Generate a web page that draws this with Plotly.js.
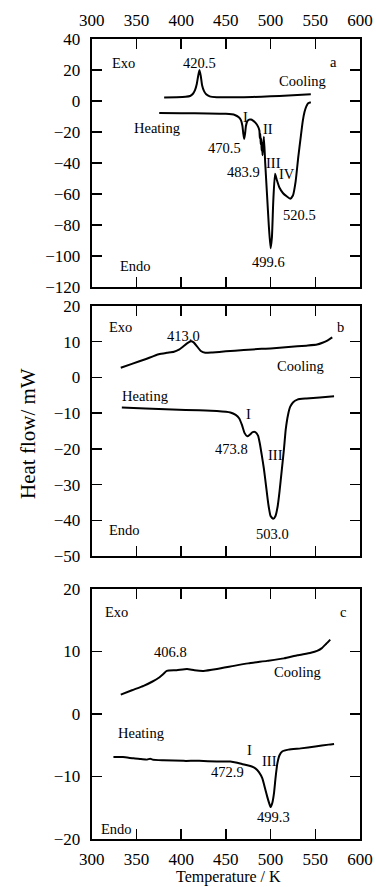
<!DOCTYPE html>
<html>
<head>
<meta charset="utf-8">
<script src="https://cdn.plot.ly/plotly-3.0.1.min.js"></script>
<style>html,body{margin:0;padding:0;background:#fff;}#chart{width:376px;height:887px;}</style>
</head>
<body>
<div id="chart"></div>
<script>
// Panel a
const aCoolT = [381, 395, 405, 410, 413, 415.5, 417.5, 419, 420.5, 422, 423.5, 425.5, 428, 432, 440, 460, 480, 500, 520, 545];
const aCoolV = [2.2, 2.4, 2.7, 3.2, 4.5, 7, 11, 16, 20, 16, 10, 6.5, 4.3, 3.0, 2.5, 2.4, 2.6, 3.0, 3.5, 4.3];
const aHeatT = [375.5, 400, 430, 450, 460, 464.5, 467, 468.5, 469.5, 470.5, 471.5, 472.5, 474, 476, 478, 480, 483, 486, 487.5, 488, 488.5, 489, 489.5, 490, 490.5, 491, 492.5, 494, 496, 498, 500, 501.5, 503, 505, 507, 510, 514, 518, 522, 525, 528, 531, 534, 536, 538, 540, 542, 545];
const aHeatV = [-7.8, -7.9, -8.0, -8.3, -9, -10.5, -12.5, -16, -21, -24.5, -21, -16, -13, -12, -12, -12.5, -14, -16.5, -19, -24, -21, -28, -24, -32, -27, -35, -23, -40, -60, -80, -95, -88, -65, -47, -51, -56, -59.5, -61.5, -63, -61, -52, -36, -22, -13, -7, -3.5, -1.5, -0.8];
// Panel b
const bCoolT = [332.5, 345, 360, 375, 384, 392, 397, 402, 407, 411, 414, 418, 422, 427, 435, 450, 470, 490, 500, 520, 540, 552, 558, 564, 569];
const bCoolV = [2.7, 3.8, 5.1, 6.5, 6.9, 7.2, 7.7, 8.6, 9.6, 10.1, 9.8, 8.6, 7.4, 6.9, 7.0, 7.3, 7.7, 8.0, 8.1, 8.5, 8.9, 9.2, 9.7, 10.4, 11.2];
const bHeatT = [333.7, 360, 390, 420, 440, 455, 461, 465, 468, 471, 474, 477, 480, 483, 486, 488, 490, 492.5, 495, 497.5, 500, 503, 505.5, 508, 510, 512.5, 515, 517, 519.5, 522, 525, 530, 540, 555, 571];
const bHeatV = [-8.4, -8.7, -9.0, -9.2, -9.4, -9.8, -10.5, -11.5, -13.3, -15.6, -16.5, -16.0, -15.3, -15.3, -16.3, -18.5, -21.5, -25.5, -30.5, -35.5, -38.8, -39.6, -38.8, -36, -32, -26, -20, -14.5, -10.5, -8.2, -7, -6.2, -5.9, -5.6, -5.3];
// Panel c
const cCoolT = [332.5, 345, 358, 368, 375, 380, 384, 395, 406.6, 415, 425, 440, 459, 475, 496, 515, 530, 545, 552, 557, 562, 566.7];
const cCoolV = [3.1, 3.8, 4.5, 5.2, 5.8, 6.4, 6.9, 7.0, 7.2, 7.0, 6.9, 7.2, 7.7, 8.1, 8.5, 8.9, 9.4, 9.8, 10.1, 10.5, 11.2, 11.9];
const cHeatT = [324.3, 335, 346.7, 355, 362, 365.4, 368, 380, 402.8, 420, 440, 455, 462.7, 468, 474, 479, 483, 487, 490.8, 494, 496.4, 498.5, 500.1, 502, 503.8, 505.5, 507.6, 510, 513, 520, 533.8, 550, 565, 571];
const cHeatV = [-6.9, -6.9, -7.1, -7.2, -7.3, -7.15, -7.3, -7.4, -7.5, -7.5, -7.6, -7.6, -7.8, -8.0, -8.2, -8.4, -8.7, -9.3, -10.3, -12, -13.3, -14.3, -14.9, -14.2, -12.7, -10.3, -7.9, -6.6, -6.0, -5.7, -5.5, -5.2, -4.9, -4.8];

const xTicks = [300, 350, 400, 450, 500, 550, 600];

// labels: [text, x, y, panel]
const labels = [
  ['Exo', 335.5, 24.7, ''], ['420.5', 420.8, 24.3, ''], ['a', 570, 25.4, ''], ['Cooling', 535.7, 12.9, ''],
  ['Heating', 373, -17.6, ''], ['I', 472, -10.1, ''], ['470.5', 448.8, -30.1, ''], ['II', 497, -18.3, ''],
  ['483.9', 470.2, -45.6, ''], ['III', 503, -40.2, ''], ['IV', 518, -47.1, ''], ['520.5', 531.9, -73.5, ''],
  ['499.6', 497.5, -103.7, ''], ['Endo', 348.6, -106.5, ''],
  ['Exo', 331.8, 14.2, '2'], ['413.0', 402.8, 11.5, '2'], ['b', 577.9, 14.2, '2'], ['Cooling', 533.8, 3.1, '2'],
  ['Heating', 359.8, -5.1, '2'], ['I', 475.8, -10.2, '2'], ['473.8', 456.3, -20.1, '2'], ['III', 505.7, -21.7, '2'],
  ['503.0', 502, -43.9, '2'], ['Endo', 336.3, -42.6, '2'],
  ['Exo', 328, 16.3, '3'], ['406.8', 387.9, 10, '3'], ['c', 580.6, 16.3, '3'], ['Cooling', 530, 6.7, '3'],
  ['Heating', 355, -3.1, '3'], ['I', 476.9, -5.8, '3'], ['III', 499.3, -7.5, '3'], ['472.9', 452.2, -9.3, '3'],
  ['499.3', 503.8, -16.5, '3'], ['Endo', 328, -18.4, '3']
];

const FONT = 'Liberation Serif, Times New Roman, serif';
const lineStyle = {color: 'black', width: 2, shape: 'spline', smoothing: 0.5};

function tr(x, y, p) {
  return {x: x, y: y, xaxis: 'x' + p, yaxis: 'y' + p, mode: 'lines', line: lineStyle, showlegend: false, hoverinfo: 'skip'};
}
const data = [
  tr(aCoolT, aCoolV, ''), tr(aHeatT, aHeatV, ''),
  tr(bCoolT, bCoolV, '2'), tr(bHeatT, bHeatV, '2'),
  tr(cCoolT, cCoolV, '3'), tr(cHeatT, cHeatV, '3')
];

const base = {
  showline: true, linecolor: 'black', linewidth: 2, mirror: 'allticks',
  ticks: 'inside', ticklen: 10, tickwidth: 1.5, tickcolor: 'black',
  showgrid: false, zeroline: false, fixedrange: true,
  tickfont: {family: FONT, size: 17, color: 'black'}
};
const xd = [91.7 / 376, 360 / 376];
function xax(anchor, side, show) {
  return Object.assign({}, base, {domain: xd, range: [300, 600], tickmode: 'array', tickvals: xTicks,
    ticktext: xTicks.map(String), anchor: anchor, side: side, showticklabels: show, ticklabelstandoff: 4});
}
function yax(anchor, dom, range, dtick) {
  return Object.assign({}, base, {domain: dom, range: range, tick0: 0, dtick: dtick, anchor: anchor, ticklabelstandoff: 6});
}
const H = 887;
const layout = {
  width: 376, height: 887,
  margin: {l: 0, r: 0, t: 0, b: 0},
  paper_bgcolor: 'white', plot_bgcolor: 'white',
  showlegend: false,
  font: {family: FONT, color: 'black'},
  xaxis: xax('y', 'top', true),
  xaxis2: xax('y2', 'bottom', false),
  xaxis3: xax('y3', 'bottom', true),
  yaxis: yax('x', [1 - 287 / H, 1 - 39 / H], [-120, 40], 20),
  yaxis2: yax('x2', [1 - 556 / H, 1 - 306 / H], [-50, 20], 10),
  yaxis3: yax('x3', [1 - 839 / H, 1 - 589 / H], [-20, 20], 10),
  annotations: labels.map(l => ({text: l[0], x: l[1], y: l[2], xref: 'x' + l[3], yref: 'y' + l[3],
    showarrow: false, xanchor: 'center', yanchor: 'middle', font: {family: FONT, size: 14.5, color: 'black'}}))
    .concat([
      {text: 'Heat flow/ mW', x: 28 / 376, y: 1 - 434 / H, xref: 'paper', yref: 'paper', textangle: -90,
       showarrow: false, xanchor: 'center', yanchor: 'middle', font: {family: FONT, size: 21, color: 'black'}},
      {text: 'Temperature / K', x: 228 / 376, y: 0, xref: 'paper', yref: 'paper', borderpad: 0,
       showarrow: false, xanchor: 'center', yanchor: 'bottom', font: {family: FONT, size: 16, color: 'black'}}
    ])
};
Plotly.newPlot('chart', data, layout, {staticPlot: true, displayModeBar: false});
</script>
</body>
</html>
